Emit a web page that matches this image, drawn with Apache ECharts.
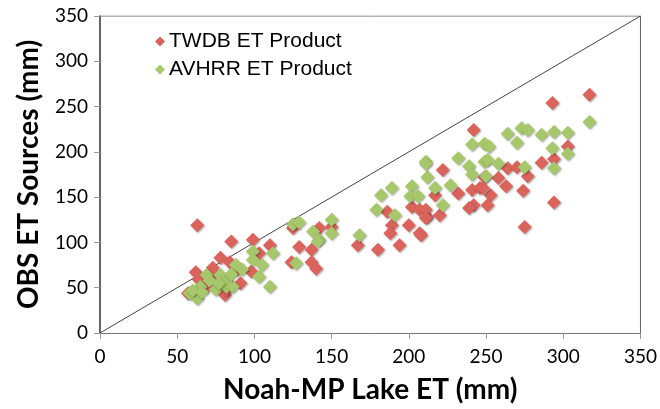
<!DOCTYPE html>
<html>
<head>
<meta charset="utf-8">
<script src="https://cdn.jsdelivr.net/npm/echarts@6/dist/echarts.min.js"></script>
<style>
    html, body {margin: 0; padding: 0; background: #fff;}
    #chart {width: 660px; height: 409px;}
</style>
</head>
<body>
<div id="chart"></div>
<script>
// axis ticks
const xTicks = [0, 50, 100, 150, 200, 250, 300, 350];
const yTicks = [0, 50, 100, 150, 200, 250, 300, 350];

// [Noah-MP lake ET, observed ET]
const twdb = [
    [63, 119], [85, 101], [99, 103], [110, 97], [103, 88], [78, 83], [84, 78], [73, 72],
    [89, 70], [98, 68], [62, 67], [64, 59], [69, 51], [91, 55], [81, 42], [57, 44],
    [76, 62], [82, 48],
    [125, 116], [129, 95], [137, 92], [124, 78], [137, 78], [140, 71], [142, 116], [150, 117],
    [167, 97], [180, 92], [194, 97], [186, 134], [189, 119], [188, 110], [200, 119], [207, 110],
    [202, 139], [207, 136], [212, 128], [211, 136], [222, 180], [217, 152], [220, 130], [211, 127],
    [208, 108], [232, 154], [242, 224], [241, 158], [242, 141], [239, 138], [246, 160], [253, 152],
    [251, 141], [249, 172], [258, 171], [264, 182], [270, 183], [277, 173], [263, 162], [274, 157],
    [294, 144], [275, 117], [286, 188], [294, 192], [303, 206], [293, 254], [317, 263], [248, 160]
];
const avhrr = [
    [58, 44], [63, 38], [65, 51], [69, 64], [71, 58], [75, 48], [78, 64], [80, 58],
    [82, 51], [86, 51], [88, 75], [99, 90], [99, 81], [103, 62], [110, 51], [77, 55],
    [60, 47], [66, 45], [85, 65], [92, 70], [105, 75], [112, 88],
    [125, 120], [129, 122], [138, 112], [142, 103], [150, 125], [150, 110], [141, 101], [127, 77],
    [168, 108], [179, 136], [182, 152], [189, 160], [191, 130], [202, 162], [201, 151], [206, 151],
    [211, 189], [212, 172], [217, 160], [222, 141], [227, 163], [232, 193], [239, 184], [241, 208],
    [249, 209], [252, 206], [249, 189], [251, 191], [250, 173], [241, 175], [258, 187], [264, 220],
    [273, 226], [277, 224], [286, 219], [294, 222], [303, 221], [270, 210], [293, 204], [303, 198],
    [294, 182], [275, 183], [317, 233], [211, 187]
];
const oneToOne = [[0, 0], [350, 350]];

const chart = echarts.init(document.getElementById('chart'));

const shadow = {
    shadowBlur: 2,
    shadowColor: 'rgba(0,0,0,0.35)',
    shadowOffsetX: 1,
    shadowOffsetY: 1,
};

chart.setOption({
    animation: false,
    grid: {left: 100, right: 18, top: 16, bottom: 76},
    legend: {
        left: 150,
        top: 26,
        orient: 'vertical',
        itemWidth: 10,
        itemHeight: 10,
        itemGap: 7,
        data: ['TWDB ET Product', 'AVHRR ET Product'],
        textStyle: {fontFamily: 'Liberation Sans', fontSize: 21, color: '#000', padding: [0, 0, 0, -1]},
    },
    xAxis: {
        type: 'value',
        min: xTicks[0],
        max: xTicks[xTicks.length - 1],
        interval: 50,
        name: 'Noah-MP Lake ET (mm)',
        nameLocation: 'middle',
        nameGap: 43,
        nameTextStyle: {fontFamily: 'Lato', fontWeight: 'bold', fontSize: 28, color: '#000'},
        axisLine: {show: true, lineStyle: {color: '#777', width: 1}},
        axisTick: {show: true, length: 6, lineStyle: {color: '#999'}},
        axisLabel: {fontFamily: 'Lato', fontSize: 19, color: '#000', margin: 14},
        splitLine: {show: false},
    },
    yAxis: {
        type: 'value',
        min: yTicks[0],
        max: yTicks[yTicks.length - 1],
        interval: 50,
        name: 'OBS ET Sources (mm)',
        nameLocation: 'middle',
        nameGap: 57,
        nameTextStyle: {fontFamily: 'Lato', fontWeight: 'bold', fontSize: 28, color: '#000'},
        axisLine: {show: true, lineStyle: {color: '#333', width: 1.5}},
        axisTick: {show: true, length: 6, lineStyle: {color: '#999'}},
        axisLabel: {fontFamily: 'Lato', fontSize: 19, color: '#000', margin: 12},
        splitLine: {show: false},
    },
    series: [
        {
            name: '1:1',
            type: 'line',
            data: oneToOne,
            symbol: 'none',
            silent: true,
            lineStyle: {color: '#444', width: 1},
            z: 1,
        },
        {
            name: 'TWDB ET Product',
            type: 'scatter',
            symbol: 'diamond',
            symbolSize: 14,
            data: twdb,
            itemStyle: Object.assign({color: '#da645c', opacity: 1}, shadow),
            z: 2,
        },
        {
            name: 'AVHRR ET Product',
            type: 'scatter',
            symbol: 'diamond',
            symbolSize: 14,
            data: avhrr,
            itemStyle: Object.assign({color: '#a6c86a', opacity: 1}, shadow),
            z: 3,
        },
        {
            // frame on top and right
            type: 'line',
            data: [[0, 350], [350, 350], [350, 0]],
            symbol: 'none',
            silent: true,
            lineStyle: {color: '#666', width: 1},
            z: 0,
        },
    ],
});
</script>
</body>
</html>
